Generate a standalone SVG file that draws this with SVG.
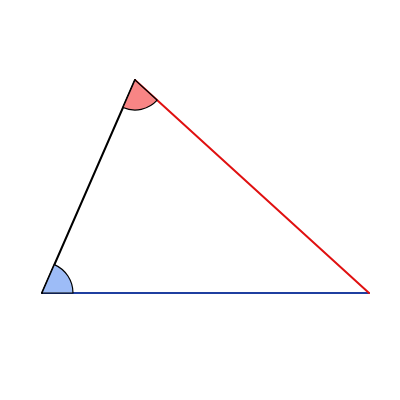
<svg xmlns="http://www.w3.org/2000/svg" width="400" height="400" viewBox="0 0 400 400">
<style>
.edge{stroke-width:2;fill:none;stroke-linecap:round}
.angle{stroke:#000;stroke-width:1.2;stroke-linejoin:round}
</style>
<rect width="400" height="400" fill="#fff"/>
<g id="connectors">
<line class="edge" x1="42" y1="293" x2="369" y2="293" stroke="#1f3fa0"/>
<line class="edge" x1="135" y1="80" x2="369" y2="293" stroke="#e01010"/>
<line class="edge" x1="42" y1="293" x2="135" y2="80" stroke="#000"/>
</g>
<g id="angleA">
<path class="angle" fill="#9dbcf7" d="M42,293 L73,293 A31,31 0 0 0 54.41,264.59 Z"/>
</g>
<g id="angleB">
<path class="angle" fill="#f88585" d="M135,80 L157.19,100.19 A30,30 0 0 1 122.99,107.5 Z"/>
</g>
</svg>
